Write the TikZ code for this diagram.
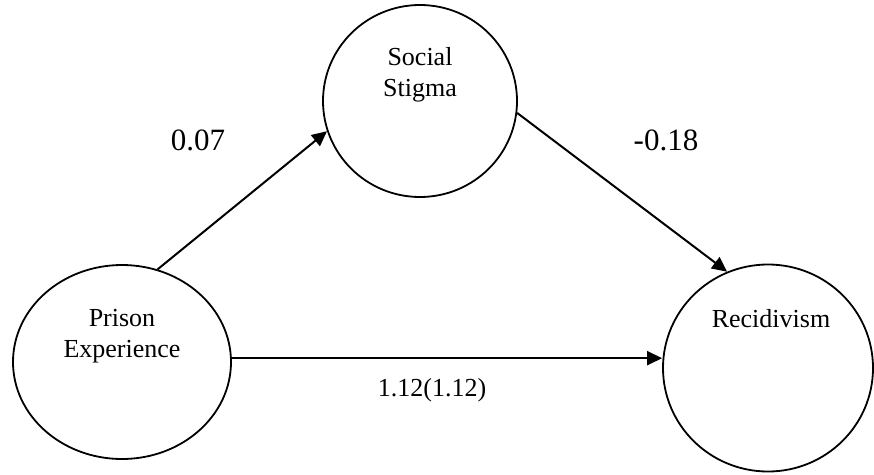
\documentclass[tikz,border=0pt]{standalone}
\usepackage{fontspec}
\setmainfont{Liberation Serif}
\usetikzlibrary{shapes.geometric,arrows.meta}
\begin{document}
\begin{tikzpicture}[x=1pt,y=-1pt,
  construct/.style={draw,ellipse,line width=1.8pt,inner sep=0pt},
  caption/.style={font=\fontsize{26}{31}\selectfont,align=center,inner sep=0pt},
  coef/.style={font=\fontsize{31}{37}\selectfont,inner sep=0pt},
  effect/.style={line width=2pt,-{Triangle[length=15pt,width=14pt]}}]
\useasboundingbox (0,0) rectangle (874,474);

% latent constructs
\node[construct,minimum width=194pt,minimum height=192pt] (ss) at (420,101) {};
\node[construct,minimum width=218pt,minimum height=194pt] (pe) at (122,362) {};
\node[construct,minimum width=210pt,minimum height=207pt] (rc) at (768,368) {};

% construct names
\node[caption] (ssl) at (420,75) {Social\\Stigma};
\node[caption] (pel) at (122,336) {Prison\\Experience};
\node[caption] (rcl) at (771,319) {Recidivism};

% paths
\draw[effect] (pe.69.6) -- (ss.198);
\draw[effect] (ss.-7) -- (rc.113);
\draw[effect] (pe.2) -- (pe.2 -| rc.west);

% path coefficients
\node[coef] (c1) at (198,140) {0.07};
\node[coef] (c2) at (666,140) {-0.18};
\node[caption] (c3) at (432,390) {1.12(1.12)};
\end{tikzpicture}
\end{document}
